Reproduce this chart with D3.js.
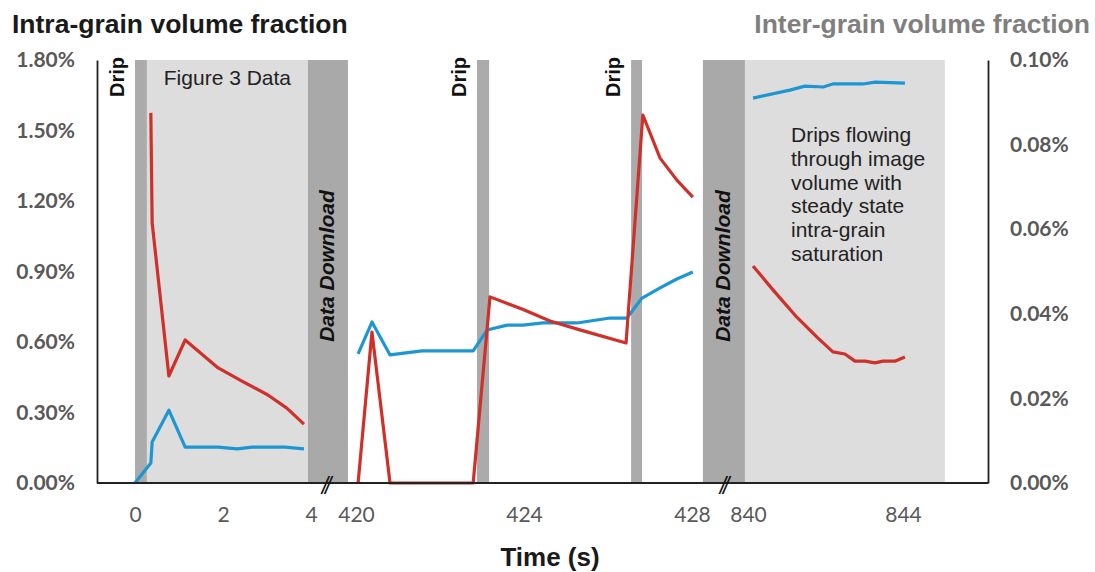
<!DOCTYPE html>
<html>
<head>
<meta charset="utf-8">
<script src="https://cdn.jsdelivr.net/npm/d3@7"></script>
<style>
  body { margin: 0; background: #fff; }
  svg { display: block; }
</style>
</head>
<body>
<svg id="chart" width="1095" height="572"></svg>
<script>
// tick labels
const seg1Ticks = [0, 2, 4];
const seg2Ticks = [420, 424, 428];
const seg3Ticks = [840, 844];
const leftTicks = [0, 0.3, 0.6, 0.9, 1.2, 1.5, 1.8];
const rightTicks = [0, 0.02, 0.04, 0.06, 0.08, 0.1];

// intra-grain volume fraction (%), [time, value], one array per time segment
const intraSeg1 = [[0,0],[0.36,0.085],[0.39,0.174],[0.77,0.31],[1.14,0.153],[1.89,0.153],[2.32,0.145],[2.66,0.153],[3.41,0.153],[3.84,0.145]];
const intraSeg2 = [[420.05,0.549],[420.38,0.685],[420.81,0.545],[421.57,0.562],[422.79,0.562],[423.12,0.651],[423.6,0.672],[423.98,0.672],[424.45,0.681],[425.26,0.681],[426.05,0.702],[426.45,0.702],[426.81,0.787],[427.24,0.83],[427.64,0.868],[428.02,0.898]];
const intraSeg3 = [[840.13,1.638],[841.08,1.672],[841.47,1.689],[841.94,1.685],[842.19,1.698],[842.97,1.698],[843.28,1.706],[844.05,1.702]];

// inter-grain volume fraction (%)
const interSeg1 = [[0.36,0.0875],[0.39,0.0615],[0.77,0.0253],[1.14,0.0338],[1.89,0.0272],[2.43,0.0241],[3.02,0.0208],[3.45,0.0177],[3.84,0.0139]];
const interSeg2 = [[420.05,0],[420.38,0.0357],[420.81,0],[422.79,0],[423.19,0.044],[423.98,0.0410],[424.62,0.0383],[425.33,0.0362],[426.43,0.0331],[426.83,0.087],[427.24,0.0768],[427.64,0.0716],[428.02,0.0676]];
const interSeg3 = [[840.13,0.0513],[840.65,0.0456],[841.26,0.0392],[841.78,0.0345],[842.19,0.031],[842.5,0.0305],[842.76,0.0288],[843.02,0.0288],[843.28,0.0284],[843.48,0.0288],[843.79,0.0288],[844.05,0.0298]];

// shaded periods: segment index, start, end (s)
const dripBands = [[0, 0, 0.27], [1, 422.88, 423.17], [1, 426.55, 426.81]];
const downloadBands = [[0, 3.93, 4.84], [1, 428.26, 429.26]];
const dataBands = [[0, 0.27, 3.93], [2, 839.92, 845.08]];
const breakMarks = [[0, 4.32], [1, 428.74]];

const noteLines = ["Drips flowing", "through image", "volume with", "steady state", "intra-grain", "saturation"];

const svg = d3.select("#chart");
const plotLeft = 97, plotRight = 988, plotTop = 60, plotBottom = 483;

// broken time axis: one scale per segment
const xs = [
  d3.scaleLinear().domain([0, 4]).range([135, 311]),
  d3.scaleLinear().domain([420, 428]).range([356, 692]),
  d3.scaleLinear().domain([840, 844]).range([748, 903])
];
const yLeft = d3.scaleLinear().domain([0, 1.8]).range([plotBottom, plotTop]);
const yRight = d3.scaleLinear().domain([0, 0.1]).range([plotBottom, plotTop]);

const band = (sel, data, fill) => sel.selectAll(null).data(data).enter().append("rect")
    .attr("x", d => xs[d[0]](d[1]))
    .attr("width", d => xs[d[0]](d[2]) - xs[d[0]](d[1]))
    .attr("y", yLeft(1.8))
    .attr("height", yLeft(0) - yLeft(1.8))
    .attr("fill", fill);

const bands = svg.append("g");
band(bands, dataBands, "#dddddd");
band(bands, downloadBands, "#a9a9a9");
band(bands, dripBands, "#ababab");

/* Series lines */
[intraSeg1, intraSeg2, intraSeg3].forEach((s, i) => {
  svg.append("path")
    .attr("d", d3.line().x(d => xs[i](d[0])).y(d => yLeft(d[1]))(s))
    .attr("fill", "none").attr("stroke", "#1e96d2").attr("stroke-width", 3.2)
    .attr("stroke-linejoin", "round");
});
[interSeg1, interSeg2, interSeg3].forEach((s, i) => {
  svg.append("path")
    .attr("d", d3.line().x(d => xs[i](d[0])).y(d => yRight(d[1]))(s))
    .attr("fill", "none").attr("stroke", "#d0302a").attr("stroke-width", 3.2)
    .attr("stroke-linejoin", "round");
});

/* Axes */
const pct = d => d.toFixed(2) + "%";
const styleY = g => {
  g.select(".domain").attr("stroke", "#222").attr("stroke-width", 1.8);
  g.selectAll("text").attr("fill", "#595959")
    .style("font", "bold 21px Lato, 'Liberation Sans', sans-serif");
};
svg.append("g").attr("transform", `translate(${plotLeft},0)`)
  .call(d3.axisLeft(yLeft).tickValues(leftTicks).tickFormat(pct).tickSize(0).tickPadding(22))
  .call(styleY);
svg.append("g").attr("transform", `translate(${plotRight},0)`)
  .call(d3.axisRight(yRight).tickValues(rightTicks).tickFormat(pct).tickSize(0).tickPadding(22))
  .call(styleY);

svg.append("line").attr("x1", plotLeft).attr("x2", plotRight).attr("y1", plotBottom).attr("y2", plotBottom)
  .attr("stroke", "#222").attr("stroke-width", 1.8);

[seg1Ticks, seg2Ticks, seg3Ticks].forEach((t, i) => {
  const g = svg.append("g").attr("transform", `translate(0,${plotBottom})`)
    .call(d3.axisBottom(xs[i]).tickValues(t).tickFormat(d3.format("d")).tickSize(0).tickPadding(24));
  g.select(".domain").remove();
  g.selectAll("text").attr("fill", "#595959").style("font", "21px Lato, 'Liberation Sans', sans-serif");
});

// axis break marks
svg.selectAll(".brk").data(breakMarks).enter().append("text")
  .attr("class", "brk")
  .attr("x", d => xs[d[0]](d[1])).attr("y", plotBottom + 11)
  .attr("text-anchor", "middle")
  .style("font", "italic 23px 'Liberation Sans', Arial, sans-serif")
  .style("letter-spacing", "-3px")
  .attr("fill", "#111").text("//");

/* Labels */
const sans = "'Liberation Sans', Arial, sans-serif";
svg.selectAll(".drip").data(dripBands).enter().append("text")
  .attr("transform", d => `translate(${xs[d[0]](d[1]) - 11},97) rotate(-90)`)
  .style("font", `bold 20px ${sans}`).attr("fill", "#111").text("Drip");

svg.selectAll(".dl").data(downloadBands).enter().append("text")
  .attr("transform", d => `translate(${(xs[d[0]](d[1]) + xs[d[0]](d[2])) / 2 + 6},266) rotate(-90)`)
  .attr("text-anchor", "middle")
  .style("font", `italic bold 21px ${sans}`).attr("fill", "#111").text("Data Download");

svg.append("text").attr("x", xs[0](2.1)).attr("y", 85).attr("text-anchor", "middle")
  .style("font", `21px ${sans}`).attr("fill", "#222").text("Figure 3 Data");

svg.append("text").attr("x", xs[2](841.11)).attr("y", 142)
  .style("font", `21px ${sans}`).attr("fill", "#222")
  .selectAll("tspan").data(noteLines).enter().append("tspan")
  .attr("x", xs[2](841.11)).attr("dy", (d, i) => i ? 23.8 : 0).text(d => d);

svg.append("text").attr("x", 12).attr("y", 33)
  .style("font", `bold 26.5px ${sans}`).attr("fill", "#1a1a1a").text("Intra-grain volume fraction");
svg.append("text").attr("x", 1090).attr("y", 33).attr("text-anchor", "end")
  .style("font", `bold 26.5px ${sans}`).attr("fill", "#7f7f7f").text("Inter-grain volume fraction");
svg.append("text").attr("x", 550).attr("y", 566).attr("text-anchor", "middle")
  .style("font", `bold 26px ${sans}`).attr("fill", "#1a1a1a").text("Time (s)");
</script>
</body>
</html>
